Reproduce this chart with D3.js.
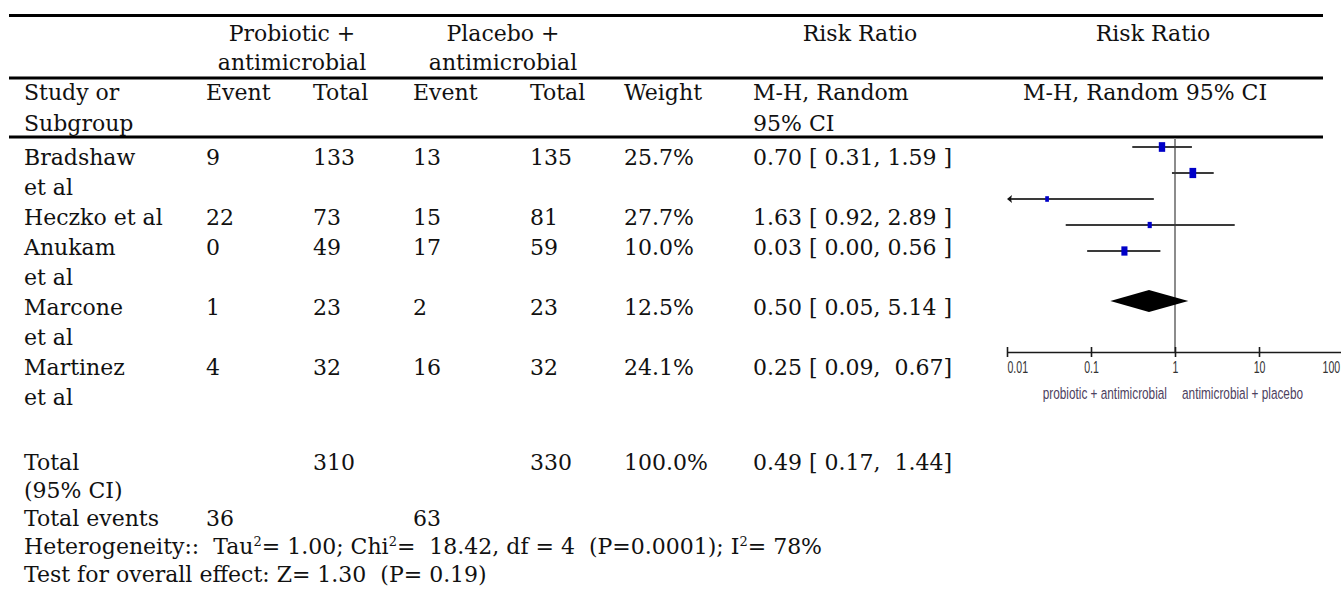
<!DOCTYPE html>
<html>
<head>
<meta charset="utf-8">
<title>forest plot</title>
<script src="https://d3js.org/d3.v7.min.js"></script>
<style>
    body { margin: 0; background: #fff; }
    svg { display: block; }
    .tbl text { font-family: "DejaVu Serif", serif; font-size: 22px; fill: #111; white-space: pre; }
    .rule { stroke: #000; stroke-width: 3px; }
    .axis path, .axis line { stroke: #1a1a1a; stroke-width: 1.6px; }
    .axis text { font-family: "Liberation Sans", Arial, sans-serif; font-size: 16px; fill: #333; }
    .legend { font-family: "Liberation Sans", Arial, sans-serif; font-size: 17px; fill: #4d4160; }
</style>
</head>
<body>
<script>
    // table values
    let studyLabels = [["Bradshaw", "et al"], ["Heczko et al"], ["Anukam", "et al"], ["Marcone", "et al"], ["Martinez", "et al"]];
    let probEvents = [9, 22, 0, 1, 4];
    let probTotals = [133, 73, 49, 23, 32];
    let placEvents = [13, 15, 17, 2, 16];
    let placTotals = [135, 81, 59, 23, 32];
    let weights = [25.7, 27.7, 10.0, 12.5, 24.1];
    let ciLabels = ["0.70 [ 0.31, 1.59 ]", "1.63 [ 0.92, 2.89 ]", "0.03 [ 0.00, 0.56 ]", "0.50 [ 0.05, 5.14 ]", "0.25 [ 0.09,  0.67]"];

    // forest values
    let rr = [0.70, 1.63, 0.03, 0.50, 0.25];
    let rrLow = [0.31, 0.92, 0.00, 0.05, 0.09];
    let rrHigh = [1.59, 2.89, 0.56, 5.14, 0.67];
    let pooled = { est: 0.49, low: 0.17, high: 1.44 };

    let totalRow = { prob: 310, plac: 330, weight: "100.0%", ci: "0.49 [ 0.17,  1.44]" };
    let totalEvents = { prob: 36, plac: 63 };
    let axisTicks = [0.01, 0.1, 1, 10, 100];
    let legendLabels = ["probiotic + antimicrobial", "antimicrobial + placebo"];

    let width = 1341;
    let height = 590;

    let svg = d3.select("body").append("svg")
        .attr("width", width)
        .attr("height", height);

    // column x positions
    let col = { study: 24, e1: 206, t1: 313, e2: 413, t2: 530, w: 624, ci: 753 };

    let tbl = svg.append("g").attr("class", "tbl");

    // header rules
    [15.5, 78, 137].forEach(y => {
        tbl.append("line").attr("class", "rule")
            .attr("x1", 9).attr("x2", 1323)
            .attr("y1", y).attr("y2", y);
    });

    function txt(x, y, s, anchor) {
        return tbl.append("text").attr("x", x).attr("y", y)
            .attr("text-anchor", anchor || "start").text(s);
    }

    txt(292, 41, "Probiotic +", "middle");
    txt(292, 70, "antimicrobial", "middle");
    txt(503, 41, "Placebo +", "middle");
    txt(503, 70, "antimicrobial", "middle");
    txt(860, 41, "Risk Ratio", "middle");
    txt(1153, 41, "Risk Ratio", "middle");

    txt(col.study, 100, "Study or");
    txt(col.study, 131, "Subgroup");
    txt(col.e1, 100, "Event");
    txt(col.t1, 100, "Total");
    txt(col.e2, 100, "Event");
    txt(col.t2, 100, "Total");
    txt(col.w, 100, "Weight");
    txt(col.ci, 100, "M-H, Random");
    txt(col.ci, 131, "95% CI");
    txt(1023, 100, "M-H, Random 95% CI");

    // body rows, 30px line pitch
    let lineH = 30;
    let firstBase = 165;
    let lineIdx = 0;
    studyLabels.forEach((lines, i) => {
        let y = firstBase + lineIdx * lineH;
        lines.forEach((l, j) => txt(col.study, y + j * lineH, l));
        txt(col.e1, y, probEvents[i]);
        txt(col.t1, y, probTotals[i]);
        txt(col.e2, y, placEvents[i]);
        txt(col.t2, y, placTotals[i]);
        txt(col.w, y, weights[i].toFixed(1) + "%");
        txt(col.ci, y, ciLabels[i]);
        lineIdx += lines.length;
    });

    let yTot = 470;
    let step = 28;
    txt(col.study, yTot, "Total");
    txt(col.study, yTot + step, "(95% CI)");
    txt(col.t1, yTot, totalRow.prob);
    txt(col.t2, yTot, totalRow.plac);
    txt(col.w, yTot, totalRow.weight);
    txt(col.ci, yTot, totalRow.ci);

    let yEv = yTot + 2 * step;
    txt(col.study, yEv, "Total events");
    txt(col.e1, yEv, totalEvents.prob);
    txt(col.e2, yEv, totalEvents.plac);

    let het = tbl.append("text").attr("x", col.study).attr("y", yEv + step);
    het.append("tspan").text("Heterogeneity::  Tau");
    het.append("tspan").attr("font-size", "13px").attr("dy", -8).text("2");
    het.append("tspan").attr("dy", 8).text("= 1.00; Chi");
    het.append("tspan").attr("font-size", "13px").attr("dy", -8).text("2");
    het.append("tspan").attr("dy", 8).text("=  18.42, df = 4  (P=0.0001); I");
    het.append("tspan").attr("font-size", "13px").attr("dy", -8).text("2");
    het.append("tspan").attr("dy", 8).text("= 78%");

    txt(col.study, yEv + 2 * step, "Test for overall effect: Z= 1.30  (P= 0.19)");

    // forest plot
    let x = d3.scaleLog()
        .domain([0.01, 100])
        .range([1007, 1343]);

    let y = d3.scaleLinear()
        .domain([0, 4])
        .range([147, 251]);

    let boxW = d3.scaleLinear().domain([0, 30]).range([2, 7.1]);
    let boxH = d3.scaleLinear().domain([0, 30]).range([3, 10.8]);

    let axisY = 352;
    let plot = svg.append("g");

    plot.append("line")
        .attr("x1", x(1)).attr("x2", x(1))
        .attr("y1", 138).attr("y2", axisY)
        .attr("stroke", "#8c8c8c").attr("stroke-width", 2);

    let idx = d3.range(rr.length);
    let clampLo = d => Math.max(d, 0.01);

    plot.selectAll("line.ci")
        .data(idx)
        .join("line")
        .attr("class", "ci")
        .attr("x1", i => x(clampLo(rrLow[i])) + (rrLow[i] < 0.01 ? 3 : 0))
        .attr("x2", i => x(rrHigh[i]))
        .attr("y1", i => y(i)).attr("y2", i => y(i))
        .attr("stroke", "#3a3a3a").attr("stroke-width", 2);

    // arrow for CIs that run off the left edge
    plot.selectAll("path.arrow")
        .data(idx.filter(i => rrLow[i] < 0.01))
        .join("path")
        .attr("class", "arrow")
        .attr("d", i => {
            let x0 = x(0.01), y0 = y(i);
            return `M${x0},${y0}L${x0 + 5},${y0 - 4}L${x0 + 4},${y0}L${x0 + 5},${y0 + 4}Z`;
        })
        .attr("fill", "#111");

    plot.selectAll("rect.box")
        .data(idx)
        .join("rect")
        .attr("class", "box")
        .attr("x", i => x(rr[i]) - boxW(weights[i]) / 2)
        .attr("y", i => y(i) - boxH(weights[i]) / 2)
        .attr("width", i => boxW(weights[i]))
        .attr("height", i => boxH(weights[i]))
        .attr("fill", "#0000c8");

    let dY = 301, dH = 11;
    plot.append("path")
        .attr("d", `M${x(pooled.low)},${dY}L${x(pooled.est)},${dY - dH}L${x(pooled.high)},${dY}L${x(pooled.est)},${dY + dH}Z`)
        .attr("fill", "#000");

    let xAxis = d3.axisBottom(x)
        .tickValues(axisTicks)
        .tickFormat(d => String(d))
        .tickSizeInner(5)
        .tickSizeOuter(0)
        .tickPadding(5);

    let ax = plot.append("g")
        .attr("class", "axis")
        .attr("transform", "translate(0," + axisY + ")")
        .call(xAxis);
    ax.selectAll(".tick line").attr("y1", -5);
    let nT = axisTicks.length;
    // squeeze labels horizontally to mimic a narrow face
    ax.selectAll(".tick text")
        .attr("text-anchor", (d, i) => i === 0 ? "start" : (i === nT - 1 ? "end" : "middle"))
        .attr("x", (d, i) => i === nT - 1 ? -5 : 0)
        .attr("transform", "scale(0.66,1)");

    let legendX = [x(1) - 8, x(1) + 7];
    plot.selectAll("g.legend")
        .data(legendLabels)
        .join("g")
        .attr("class", "legend-g")
        .attr("transform", (d, i) => `translate(${legendX[i]},399) scale(0.695,1)`)
        .append("text")
        .attr("class", "legend")
        .attr("text-anchor", (d, i) => i === 0 ? "end" : "start")
        .text(d => d);
</script>
</body>
</html>
